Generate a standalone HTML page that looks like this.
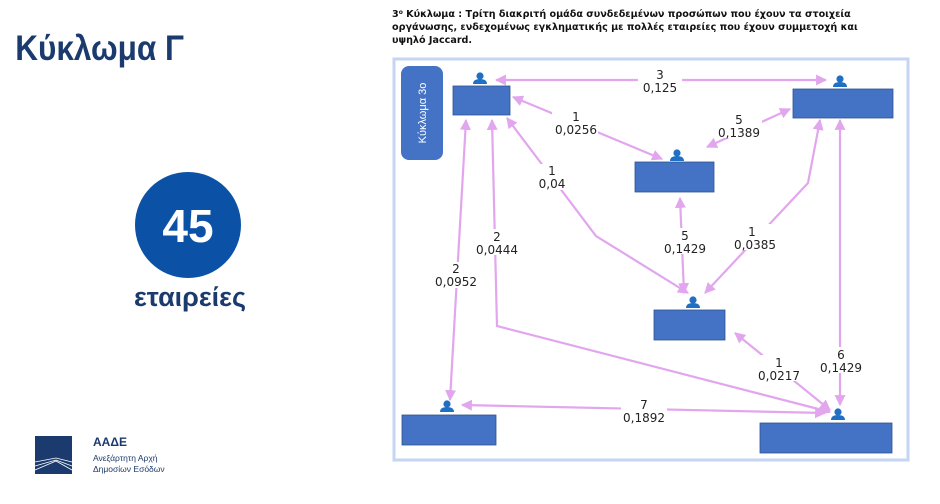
<!DOCTYPE html>
<html><head><meta charset="utf-8"><style>
body{margin:0;width:940px;height:499px;background:#fff;overflow:hidden;font-family:"Liberation Sans",sans-serif}
</style></head><body>
<svg width="940" height="499" xmlns="http://www.w3.org/2000/svg" font-family="Liberation Sans, DejaVu Sans, sans-serif">
<defs>
<marker id="ar" viewBox="0 0 10 10" refX="9" refY="5" markerWidth="5" markerHeight="5" orient="auto-start-reverse"><path d="M0,0L10,5L0,10z" fill="#e2a6ee"/></marker>
<g id="p"><circle cx="0" cy="-6" r="3.6" fill="#1f6fc4"/><path d="M-7,2 Q-7,-3 0,-3 Q7,-3 7,2z" fill="#1f6fc4"/></g>
</defs>
<text x="17" y="60" font-size="35" font-weight="bold" fill="#1b3a6e" transform="scale(0.9,1)">Κύκλωμα Γ</text>
<circle cx="188" cy="225" r="53" fill="#0b52a6"/>
<text x="188" y="242" font-size="46" font-weight="bold" fill="#fff" text-anchor="middle">45</text>
<text x="190" y="306" font-size="27" font-weight="bold" fill="#1b3a6e" text-anchor="middle">εταιρείες</text>
<rect x="35" y="436" width="37" height="38" fill="#1b3a6e"/>
<path d="M35,462 L56,458 L72,462 M35,466 L56,460 L72,466 M35,470 L56,461 L72,470" stroke="#fff" stroke-width="0.8" fill="none"/>
<text x="93" y="446" font-size="12" font-weight="bold" fill="#1b3a6e">ΑΑΔΕ</text>
<text x="93" y="461" font-size="8.5" fill="#1b3a6e">Ανεξάρτητη Αρχή</text>
<text x="93" y="472" font-size="8.5" fill="#1b3a6e">Δημοσίων Εσόδων</text>
<g font-size="9.6" font-weight="bold" fill="#111" font-family="DejaVu Sans, sans-serif">
<text x="392" y="17">3<tspan font-size="6" dy="-3">ο</tspan><tspan dy="3"> Κύκλωμα : Τρίτη  διακριτή ομάδα συνδεδεμένων προσώπων που έχουν τα στοιχεία</tspan></text>
<text x="392" y="30">οργάνωσης, ενδεχομένως εγκληματικής με πολλές εταιρείες που έχουν συμμετοχή και</text>
<text x="392" y="43">υψηλό Jaccard.</text>
</g>
<rect x="394" y="59" width="514" height="401" fill="#fff" stroke="#c4d6f4" stroke-width="3"/>
<rect x="401" y="66" width="42" height="94" rx="8" fill="#4472c4"/>
<text transform="translate(426,113) rotate(-90)" font-size="11" fill="#fff" text-anchor="middle">Κύκλωμα 3ο</text>
<g stroke="#e2a6ee" stroke-width="2.2" fill="none" marker-start="url(#ar)" marker-end="url(#ar)">
<line x1="496" y1="80" x2="826" y2="80"/>
<line x1="513" y1="97" x2="662" y2="159"/>
<line x1="707" y1="147" x2="790" y2="109"/>
<polyline points="507,118 596,236 688,293"/>
<line x1="680" y1="198" x2="684" y2="293"/>
<polyline points="820,120 808,183 705,293"/>
<line x1="466" y1="120" x2="450" y2="400"/>
<polyline points="492,120 497,326 830,412"/>
<line x1="840" y1="120" x2="840" y2="405"/>
<line x1="735" y1="333" x2="830" y2="410"/>
<line x1="462" y1="405" x2="825" y2="413"/>
</g>
<g fill="#4472c4" stroke="#2f528f" stroke-width="0.8">
<rect x="453" y="86" width="57" height="29"/>
<rect x="793" y="89" width="100" height="29"/>
<rect x="635" y="162" width="79" height="30"/>
<rect x="654" y="310" width="71" height="30"/>
<rect x="402" y="415" width="94" height="30"/>
<rect x="760" y="423" width="132" height="30"/>
</g>
<use href="#p" x="480" y="82"/><use href="#p" x="840" y="85"/><use href="#p" x="677" y="159"/>
<use href="#p" x="693" y="306"/><use href="#p" x="447" y="410"/><use href="#p" x="838" y="418"/>
<g font-size="12" fill="#222" text-anchor="middle" font-family="DejaVu Sans, sans-serif">
<rect x="638" y="68" width="44" height="24" fill="#fff"/><text x="660" y="79">3</text><text x="660" y="92">0,125</text>
<rect x="552" y="109" width="46" height="26" fill="#fff"/><text x="576" y="121">1</text><text x="576" y="134">0,0256</text>
<rect x="716" y="112" width="46" height="26" fill="#fff"/><text x="739" y="124">5</text><text x="739" y="137">0,1389</text>
<rect x="536" y="164" width="32" height="26" fill="#fff"/><text x="552" y="175">1</text><text x="552" y="188">0,04</text>
<rect x="662" y="228" width="46" height="26" fill="#fff"/><text x="685" y="240">5</text><text x="685" y="253">0,1429</text>
<rect x="732" y="224" width="46" height="26" fill="#fff"/><text x="752" y="236">1</text><text x="755" y="249">0,0385</text>
<rect x="433" y="262" width="46" height="26" fill="#fff"/><text x="456" y="273">2</text><text x="456" y="286">0,0952</text>
<rect x="474" y="229" width="46" height="26" fill="#fff"/><text x="497" y="241">2</text><text x="497" y="254">0,0444</text>
<rect x="818" y="347" width="46" height="26" fill="#fff"/><text x="841" y="359">6</text><text x="841" y="372">0,1429</text>
<rect x="756" y="355" width="46" height="26" fill="#fff"/><text x="779" y="367">1</text><text x="779" y="380">0,0217</text>
<rect x="621" y="398" width="46" height="26" fill="#fff"/><text x="644" y="409">7</text><text x="644" y="422">0,1892</text>
</g>
</svg>
</body></html>
